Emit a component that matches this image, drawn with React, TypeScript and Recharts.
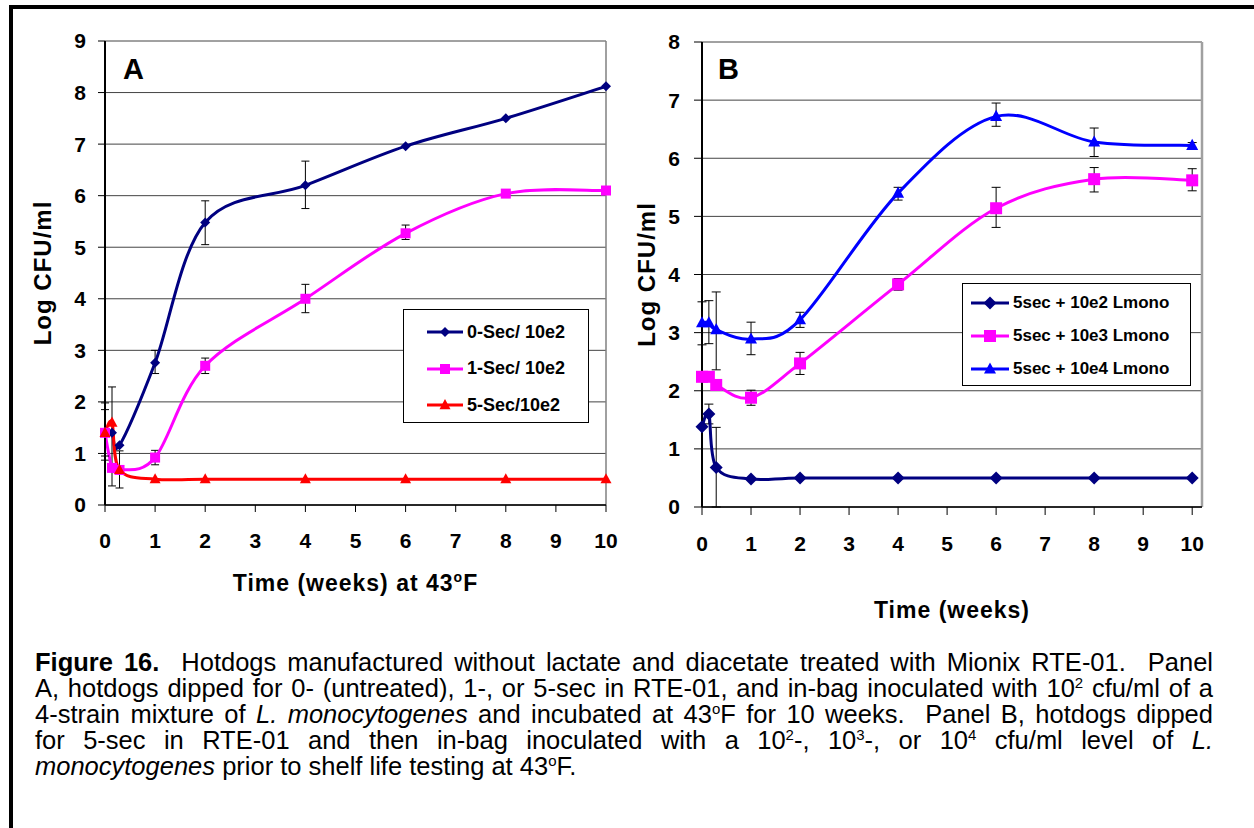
import React from 'react';
import { LineChart, Line, XAxis, YAxis, CartesianGrid, ErrorBar, Legend, ReferenceLine } from 'recharts';

// sampling times (weeks)
const weeks = [0, 0.14, 0.29, 1, 2, 4, 6, 8, 10];
const weekTicks = [0, 1, 2, 3, 4, 5, 6, 7, 8, 9, 10];
const logTicksA = [0, 1, 2, 3, 4, 5, 6, 7, 8, 9];
const logTicksB = [0, 1, 2, 3, 4, 5, 6, 7, 8];

// Panel A: dip time, 10e2 inoculum
const namesA = ['0-Sec/ 10e2', '1-Sec/ 10e2', '5-Sec/10e2'];
const sec0Log = [1.42, 1.4, 1.16, 2.76, 5.48, 6.2, 6.96, 7.5, 8.12];
const sec0Err = [null, [1.03, 0.89], null, [0.21, 0.24], [0.43, 0.42], [0.45, 0.47], null, null, null];
const sec1Log = [1.4, 0.72, 0.68, 0.92, 2.7, 4.0, 5.27, 6.04, 6.1];
const sec1Err = [[0.53, 0.58], null, null, [0.14, 0.14], [0.15, 0.15], [0.27, 0.28], [0.12, 0.16], [0.05, 0.05], null];
const sec5Log = [1.4, 1.6, 0.68, 0.5, 0.5, 0.5, 0.5, 0.5, 0.5];
const sec5Err = [[0.45, 0.45], null, [0.35, 0.37], null, null, null, null, null, null];

// Panel B: 5 sec dip, inoculum level
const namesB = ['5sec + 10e2 Lmono', '5sec + 10e3 Lmono', '5sec + 10e4 Lmono'];
const inoc2Log = [1.38, 1.6, 0.68, 0.48, 0.5, 0.5, 0.5, 0.5, 0.5];
const inoc2Err = [null, [0.17, 0.17], [0.68, 0.69], null, null, null, null, null, null];
const inoc3Log = [2.24, 2.24, 2.1, 1.88, 2.47, 3.83, 5.14, 5.64, 5.62];
const inoc3Err = [null, null, null, [0.13, 0.13], [0.19, 0.19], [0.1, 0.1], [0.33, 0.36], [0.22, 0.2], [0.18, 0.2]];
const inoc4Log = [3.17, 3.17, 3.05, 2.89, 3.22, 5.4, 6.72, 6.28, 6.22];
const inoc4Err = [[0.38, 0.36], [0.36, 0.38], [0.69, 0.65], [0.27, 0.29], [0.13, 0.13], [0.12, 0.1], [0.17, 0.23], [0.25, 0.24], [0.05, 0.05]];

const rows = (ys: number[], errs: any[]) => weeks.map((t, i) => ({ t, v: ys[i], err: errs[i] }));

const FONT = '"Liberation Sans", Arial, sans-serif';

// Excel style smoothed line (bezier with 1/6 tangents)
const excelSmooth = (context: any) => {
  let pts: number[][] = [];
  return {
    areaStart() {},
    areaEnd() {},
    lineStart() { pts = []; },
    point(x: number, y: number) { pts.push([+x, +y]); },
    lineEnd() {
      const n = pts.length;
      if (!n) return;
      context.moveTo(pts[0][0], pts[0][1]);
      for (let i = 0; i < n - 1; i++) {
        const p0 = pts[i > 0 ? i - 1 : i];
        const p1 = pts[i];
        const p2 = pts[i + 1];
        const p3 = pts[i + 2 < n ? i + 2 : i + 1];
        context.bezierCurveTo(
          p1[0] + (p2[0] - p0[0]) / 6, p1[1] + (p2[1] - p0[1]) / 6,
          p2[0] - (p3[0] - p1[0]) / 6, p2[1] - (p3[1] - p1[1]) / 6,
          p2[0], p2[1]
        );
      }
    },
  };
};

const Marker = ({ cx, cy, shape, r, color }: any) => {
  if (cx == null || cy == null) return null;
  if (shape === 'diamond')
    return <polygon points={`${cx},${cy - r} ${cx + r},${cy} ${cx},${cy + r} ${cx - r},${cy}`} fill={color} />;
  if (shape === 'square') return <rect x={cx - r} y={cy - r} width={2 * r} height={2 * r} fill={color} />;
  return <polygon points={`${cx},${cy - r * 1.1} ${cx + r},${cy + r * 0.75} ${cx - r},${cy + r * 0.75}`} fill={color} />;
};

const dotFor = (shape: string, r: number, color: string) => (p: any) => (
  <g key={`d${p.index}`}>
    <Marker cx={p.cx} cy={p.cy} shape={shape} r={r} color={color} />
  </g>
);

const styleA: Record<string, any> = {
  [namesA[0]]: { color: '#000080', shape: 'diamond', r: 5 },
  [namesA[1]]: { color: '#FF00FF', shape: 'square', r: 5 },
  [namesA[2]]: { color: '#FF0000', shape: 'triangle', r: 5.5 },
};
const styleB: Record<string, any> = {
  [namesB[0]]: { color: '#000080', shape: 'diamond', r: 6.5 },
  [namesB[1]]: { color: '#FF00FF', shape: 'square', r: 6 },
  [namesB[2]]: { color: '#0000FF', shape: 'triangle', r: 6 },
};

const LegendBox = ({ payload, styles, width, height, rowH, padTop, padLeft, iconW, fontSize }: any) => (
  <div
    style={{
      width, height, boxSizing: 'border-box', border: '1px solid #000', background: '#fff',
      paddingTop: padTop, paddingLeft: padLeft, fontFamily: FONT, fontWeight: 700, fontSize, color: '#000',
    }}
  >
    {(payload || []).map((e: any) => {
      const s = styles[e.value];
      if (!s) return null;
      return (
        <div key={e.value} style={{ display: 'flex', alignItems: 'center', height: rowH }}>
          <svg width={iconW} height={16} style={{ display: 'block' }}>
            <line x1={0} y1={8} x2={iconW} y2={8} stroke={s.color} strokeWidth={3} />
            <Marker cx={iconW / 2} cy={8} shape={s.shape} r={s.r} color={s.color} />
          </svg>
          <span style={{ marginLeft: 4, whiteSpace: 'nowrap' }}>{e.value}</span>
        </div>
      );
    })}
  </div>
);

const XTitle = ({ viewBox, dy, text, sup, after }: any) => {
  const { x, y, width } = viewBox;
  return (
    <text x={x + width / 2} y={y + dy} textAnchor="middle" fontSize={23} fontWeight={700} letterSpacing={1} fill="#000" fontFamily={FONT}>
      {text}
      {sup ? (
        <>
          <tspan dy={-9} fontSize={14}>{sup}</tspan>
          <tspan dy={9}>{after}</tspan>
        </>
      ) : null}
    </text>
  );
};

const tickStyle = { fill: '#000', fontSize: 21, fontWeight: 700, fontFamily: FONT };
const yTitle = (offset: number) => ({
  value: 'Log CFU/ml', angle: -90, position: 'insideLeft', offset,
  style: { textAnchor: 'middle', fontSize: 24, fontWeight: 700, letterSpacing: 1, fill: '#000', fontFamily: FONT },
});

const PanelA = () => (
  <LineChart width={620} height={620} margin={{ top: 41, right: 14, bottom: 0, left: 0 }}>
    <CartesianGrid vertical={false} stroke="#444" strokeWidth={1} />
    <XAxis
      type="number" dataKey="t" domain={[0, 10]} ticks={weekTicks} interval={0} height={115}
      tick={tickStyle} tickSize={7} tickMargin={21}
      axisLine={{ stroke: '#000', strokeWidth: 1.5 }} tickLine={{ stroke: '#000' }}
      label={(p: any) => <XTitle {...p} dy={86} text="Time (weeks) at 43" sup="o" after="F" />}
    />
    <YAxis
      type="number" domain={[0, 9]} ticks={logTicksA} interval={0} width={105}
      tick={tickStyle} tickSize={7} tickMargin={12}
      axisLine={{ stroke: '#000', strokeWidth: 2 }} tickLine={{ stroke: '#000' }}
      label={yTitle(42)}
    />
    <ReferenceLine x={10} stroke="#808080" strokeWidth={1.5} />
    <Line data={rows(sec0Log, sec0Err)} dataKey="v" name={namesA[0]} type={excelSmooth as any} stroke="#000080" strokeWidth={3}
      dot={dotFor('diamond', 5, '#000080')} activeDot={false} isAnimationActive={false}>
      <ErrorBar dataKey="err" width={4} stroke="#000" strokeWidth={1} direction="y" isAnimationActive={false} />
    </Line>
    <Line data={rows(sec1Log, sec1Err)} dataKey="v" name={namesA[1]} type={excelSmooth as any} stroke="#FF00FF" strokeWidth={3}
      dot={dotFor('square', 5, '#FF00FF')} activeDot={false} isAnimationActive={false}>
      <ErrorBar dataKey="err" width={4} stroke="#000" strokeWidth={1} direction="y" isAnimationActive={false} />
    </Line>
    <Line data={rows(sec5Log, sec5Err)} dataKey="v" name={namesA[2]} type={excelSmooth as any} stroke="#FF0000" strokeWidth={3}
      dot={dotFor('triangle', 5.5, '#FF0000')} activeDot={false} isAnimationActive={false}>
      <ErrorBar dataKey="err" width={4} stroke="#000" strokeWidth={1} direction="y" isAnimationActive={false} />
    </Line>
    <Legend
      layout="horizontal" verticalAlign="middle" align="center" width={186}
      wrapperStyle={{ left: 403, top: 309, width: 186, height: 114 }}
      content={(p: any) => (
        <LegendBox payload={p.payload} styles={styleA} width={186} height={114} rowH={36.5} padTop={4} padLeft={23} iconW={36} fontSize={18} />
      )}
    />
  </LineChart>
);

const PanelB = () => (
  <LineChart width={634} height={640} margin={{ top: 42, right: 52, bottom: 0, left: 0 }}>
    <CartesianGrid vertical={false} stroke="#444" strokeWidth={1} />
    <XAxis
      type="number" dataKey="t" domain={[0, 10.2]} ticks={weekTicks} interval={0} height={133}
      tick={tickStyle} tickSize={8} tickMargin={21}
      axisLine={{ stroke: '#000', strokeWidth: 1.5 }} tickLine={{ stroke: '#000' }}
      label={(p: any) => <XTitle {...p} dy={111} text="Time (weeks)" />}
    />
    <YAxis
      type="number" domain={[0, 8]} ticks={logTicksB} interval={0} width={82}
      tick={tickStyle} tickSize={8} tickMargin={14}
      axisLine={{ stroke: '#000', strokeWidth: 2 }} tickLine={{ stroke: '#000' }}
      label={yTitle(26)}
    />
    <ReferenceLine x={10.2} stroke="#a0a0a0" strokeWidth={2.5} />
    <Line data={rows(inoc2Log, inoc2Err)} dataKey="v" name={namesB[0]} type={excelSmooth as any} stroke="#000080" strokeWidth={3}
      dot={dotFor('diamond', 6.5, '#000080')} activeDot={false} isAnimationActive={false}>
      <ErrorBar dataKey="err" width={4.5} stroke="#000" strokeWidth={1} direction="y" isAnimationActive={false} />
    </Line>
    <Line data={rows(inoc3Log, inoc3Err)} dataKey="v" name={namesB[1]} type={excelSmooth as any} stroke="#FF00FF" strokeWidth={3}
      dot={dotFor('square', 6, '#FF00FF')} activeDot={false} isAnimationActive={false}>
      <ErrorBar dataKey="err" width={4.5} stroke="#000" strokeWidth={1} direction="y" isAnimationActive={false} />
    </Line>
    <Line data={rows(inoc4Log, inoc4Err)} dataKey="v" name={namesB[2]} type={excelSmooth as any} stroke="#0000FF" strokeWidth={3}
      dot={dotFor('triangle', 6, '#0000FF')} activeDot={false} isAnimationActive={false}>
      <ErrorBar dataKey="err" width={4.5} stroke="#000" strokeWidth={1} direction="y" isAnimationActive={false} />
    </Line>
    <Legend
      layout="horizontal" verticalAlign="middle" align="center" width={229}
      wrapperStyle={{ left: 342, top: 283, width: 229, height: 103 }}
      content={(p: any) => (
        <LegendBox payload={p.payload} styles={styleB} width={229} height={103} rowH={33} padTop={2} padLeft={8} iconW={38} fontSize={17} />
      )}
    />
  </LineChart>
);

const sup = (s: string) => <sup style={{ fontSize: 15, lineHeight: 0 }}>{s}</sup>;

const captionLines = [
  <><b>Figure 16.</b>{'\u00a0 '}Hotdogs manufactured without lactate and diacetate treated with Mionix RTE-01.{'\u00a0 '}Panel</>,
  <>A, hotdogs dipped for 0- (untreated), 1-, or 5-sec in RTE-01, and in-bag inoculated with 10{sup('2')} cfu/ml of a</>,
  <>4-strain mixture of <i>L. monocytogenes</i> and incubated at 43{sup('o')}F for 10 weeks.{'\u00a0 '}Panel B, hotdogs dipped</>,
  <>for 5-sec in RTE-01 and then in-bag inoculated with a 10{sup('2')}-, 10{sup('3')}-, or 10{sup('4')} cfu/ml level of <i>L.</i></>,
  <><i>monocytogenes</i> prior to shelf life testing at 43{sup('o')}F.</>,
];

const App = () => (
  <div style={{ position: 'absolute', left: 0, top: 0, width: 1254, height: 828, background: '#fff', fontFamily: FONT, overflow: 'hidden' }}>
    <div style={{ position: 'absolute', left: 9, top: 5, width: 1245, height: 4, background: '#000' }} />
    <div style={{ position: 'absolute', left: 9, top: 5, width: 4, height: 823, background: '#000' }} />
    <div style={{ position: 'absolute', left: 0, top: 0 }}>
      <PanelA />
    </div>
    <div style={{ position: 'absolute', left: 620, top: 0 }}>
      <PanelB />
    </div>
    <div style={{ position: 'absolute', left: 123, top: 55, fontSize: 29, lineHeight: '29px', fontWeight: 700 }}>A</div>
    <div style={{ position: 'absolute', left: 718, top: 55, fontSize: 29, lineHeight: '29px', fontWeight: 700 }}>B</div>
    <div style={{ position: 'absolute', left: 35, top: 649, width: 1178, fontSize: 25.5, lineHeight: '26px', color: '#000' }}>
      {captionLines.map((ln, i) => (
        <div
          key={i}
          style={{
            whiteSpace: 'nowrap', textAlign: 'justify',
            textAlignLast: i < captionLines.length - 1 ? 'justify' : 'left',
          }}
        >
          {ln}
        </div>
      ))}
    </div>
  </div>
);

export default App;
